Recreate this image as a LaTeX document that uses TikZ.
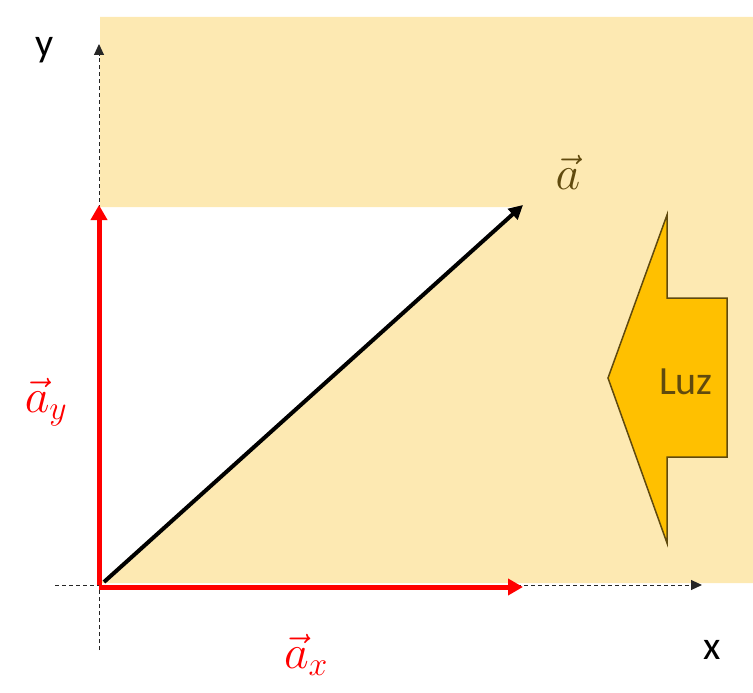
\RequirePackage{fix-cm}
\documentclass[tikz,border=0pt]{standalone}
\usepackage{fontspec}
\setsansfont{Carlito}
\usetikzlibrary{arrows.meta}
\definecolor{shadebg}{RGB}{253,233,178}
\definecolor{goldfill}{RGB}{255,192,0}
\definecolor{darkbrown}{RGB}{96,74,14}
\definecolor{vecred}{RGB}{255,0,0}
\begin{document}
\begin{tikzpicture}[x=1pt,y=-1pt,
  axisline/.style={black!85, line width=1pt, dash pattern=on 4pt off 3pt, -{Triangle[length=11pt,width=10pt]}},
  redvec/.style={vecred, line width=5pt, -{Triangle[length=15pt,width=16pt]}},
  blackvec/.style={black, line width=4pt, -{Triangle[length=14pt,width=14pt]}},
  axislabel/.style={font=\sffamily\fontsize{40}{48}\selectfont, inner sep=0pt},
  veclabel/.style={font=\fontsize{48}{56}\selectfont, inner sep=0pt},
]
\useasboundingbox (0,0) rectangle (753,693);
% shaded region
\fill[shadebg] (100,17) -- (753,17) -- (753,583) -- (100,583) -- (520,207) -- (100,207) -- cycle;
% axes
\coordinate (ybot) at (99,650);
\coordinate (ytop) at (99,44);
\coordinate (xleft) at (55,585);
\coordinate (xright) at (702,585);
\draw[axisline] (ybot) -- (ytop);
\draw[axisline] (xleft) -- (xright);
% vectors
\coordinate (O) at (99,585);
\coordinate (Ox) at (99,587);
\coordinate (aytip) at (99,205);
\coordinate (axtip) at (523,587);
\coordinate (Ob) at (104,582);
\coordinate (atip) at (523,205);
\draw[redvec] (O) -- (aytip);
\draw[redvec] (Ox) -- (axtip);
\draw[blackvec] (Ob) -- (atip);
% labels
\node[axislabel] (ylab) at (45,50) {y};
\node[axislabel] (xlab) at (712,650) {x};
\node[veclabel, text=darkbrown] (alab) at (568,172) {$\vec{a}$};
\node[veclabel, text=vecred] (aylab) at (46,402) {$\vec{a}_y$};
\node[veclabel, text=vecred] (axlab) at (306,655) {$\vec{a}_x$};
% light arrow
\draw[darkbrown, line width=1.5pt, fill=goldfill, line join=miter]
  (608,378) -- (667,215) -- (667,298) -- (727,298) -- (727,457) -- (667,457) -- (667,543) -- cycle;
\node[font=\sffamily\fontsize{40}{48}\selectfont, text=darkbrown, inner sep=0pt] (luz) at (686,382) {Luz};
\end{tikzpicture}
\end{document}
